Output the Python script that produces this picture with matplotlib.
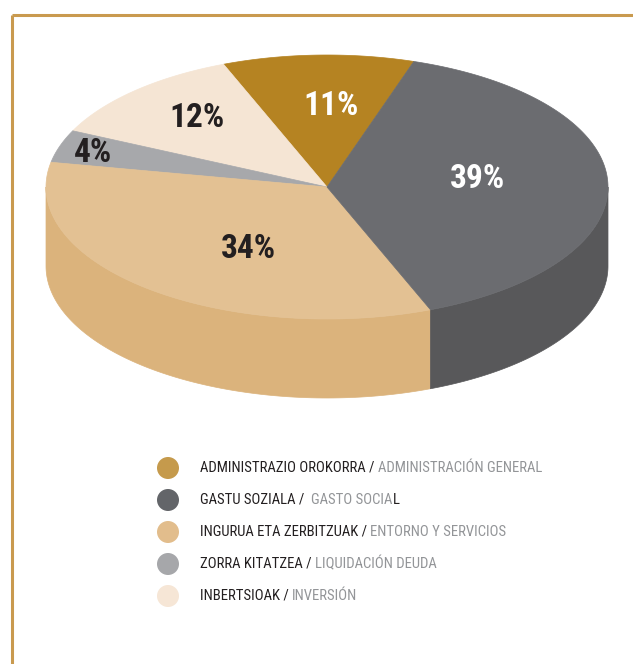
import matplotlib
matplotlib.use('Agg')
import matplotlib.pyplot as plt
from matplotlib.patches import Polygon, Circle
import numpy as np

# legend order
labels_eu = ['ADMINISTRAZIO OROKORRA / ',
             'GASTU SOZIALA /  ',
             'INGURUA ETA ZERBITZUAK / ',
             'ZORRA KITATZEA / ',
             'INBERTSIOAK / ']
labels_es = ['ADMINISTRACIÓN GENERAL',
             'GASTO SOCIA',
             'ENTORNO Y SERVICIOS',
             'LIQUIDACIÓN DEUDA',
             'INVERSIÓN']
values = [11, 39, 34, 4, 12]
pct_text = ['11%', '39%', '34%', '4%', '12%']

# pie drawing order (counterclockwise from start angle)
draw_order = [0, 4, 3, 2, 1]

top_colors = ['#B58322', '#6B6C70', '#E3C193', '#A7A8AB', '#F5E5D4']
side_colors = ['#A3751E', '#58585A', '#DBB37C', '#96979A', '#E8D6C2']
legend_colors = ['#C59A4C', '#636569', '#E2BD8C', '#A6A7AA', '#F6E6D6']
pct_colors = ['white', 'white', '#231F20', '#231F20', '#231F20']
# label placement: radius fraction and angle shift from slice middle
label_radius = [0.61, 0.54, 0.55, 0.87, 0.70]
label_shift = [-3, 5, 9, 1, -1.7]

cx, cy, rx, ry, depth = 327, 187, 281, 132, 79
start = 72.0

W, H = 633, 664
fig = plt.figure(figsize=(W / 100, H / 100), dpi=100)
ax = fig.add_axes([0, 0, 1, 1])
ax.set_xlim(0, W)
ax.set_ylim(H, 0)
ax.axis('off')

# frame
gold = '#C99A4F'
ax.plot([12, W], [15, 15], color=gold, lw=2.2, solid_capstyle='butt')
ax.plot([12, 12], [15, H], color=gold, lw=2.2, solid_capstyle='butt')


def pt(t, dy=0):
    r = np.radians(t)
    return cx + rx * np.cos(r), cy - ry * np.sin(r) + dy


total = sum(values)
angles = {}
a = start
for i in draw_order:
    span = 360.0 * values[i] / total
    angles[i] = (a, a + span)
    a += span

# sides (front half only: 180..360 deg, mod 360)
for i in draw_order:
    a1, a2 = angles[i]
    for off in (0, 360):
        s1 = max(a1, 180 + off)
        s2 = min(a2, 360 + off)
        if s2 <= s1:
            continue
        t = np.linspace(s1, s2, 100)
        xs, ys = pt(t)
        xb, yb = pt(t[::-1], depth)
        poly = np.column_stack([np.concatenate([xs, xb]), np.concatenate([ys, yb])])
        ax.add_patch(Polygon(poly, closed=True, fc=side_colors[i], ec=side_colors[i], lw=0.5))

# tops
for i in draw_order:
    a1, a2 = angles[i]
    t = np.linspace(a1, a2, 200)
    xs, ys = pt(t)
    poly = np.column_stack([np.concatenate([[cx], xs]), np.concatenate([[cy], ys])])
    ax.add_patch(Polygon(poly, closed=True, fc=top_colors[i], ec=top_colors[i], lw=0.5))

# percent labels
pct_font = ['Roboto Condensed', 'Roboto', 'DejaVu Sans']
for i in draw_order:
    a1, a2 = angles[i]
    m = np.radians((a1 + a2) / 2 + label_shift[i])
    lr = label_radius[i]
    lx = cx + rx * lr * np.cos(m)
    ly = cy - ry * lr * np.sin(m)
    ax.text(lx, ly, pct_text[i], ha='center', va='center', fontsize=24,
            fontweight='bold', color=pct_colors[i], family=pct_font)

# legend
leg_font = ['Roboto Condensed', 'Roboto', 'DejaVu Sans']
leg_size = 10.6
fig.canvas.draw()
renderer = fig.canvas.get_renderer()
inv = ax.transData.inverted()
for k in range(len(values)):
    yy = 468 + 32 * k
    ax.add_patch(Circle((168, yy), 11, fc=legend_colors[k], ec='none'))
    t1 = ax.text(200, yy, labels_eu[k], ha='left', va='center', fontsize=leg_size,
                 color='#231F20', family=leg_font)
    bb = t1.get_window_extent(renderer)
    x_end = inv.transform((bb.x1, bb.y0))[0]
    t2 = ax.text(x_end, yy, labels_es[k], ha='left', va='center', fontsize=leg_size,
                 color='#939598', family=leg_font)
    if k == 1:
        bb2 = t2.get_window_extent(renderer)
        x2 = inv.transform((bb2.x1, bb2.y0))[0]
        ax.text(x2, yy, 'L', ha='left', va='center', fontsize=leg_size,
                color='#231F20', family=leg_font)

fig.savefig('out.png', dpi=100)
